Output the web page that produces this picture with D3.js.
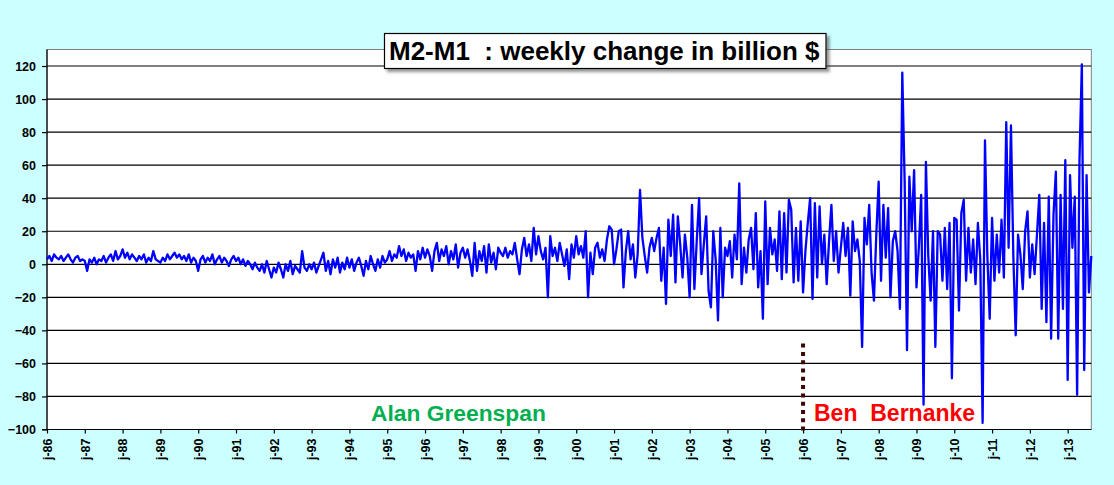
<!DOCTYPE html>
<html><head><meta charset="utf-8">
<script src="https://cdn.jsdelivr.net/npm/d3@7"></script>
<style>html,body{margin:0;padding:0;background:#ccffff;}svg{display:block;}</style>
</head><body>
<svg id="chart" width="1114" height="485"></svg>
<script>
// ---- data ----
const startYear = 1986;
const pointsPerYear = 16;
const values = [
 3,5,2,6,4,3,5,2,4,6,3,1,4,5,2,3,
 2,-4,3,1,4,0,3,2,5,1,4,6,2,8,3,5,
 9,4,7,3,6,4,2,5,3,6,1,4,2,8,3,2,
 1,4,2,6,3,5,7,4,6,3,5,2,6,1,4,2,
 -4,3,5,1,4,2,6,0,3,5,1,4,2,-1,3,5,
 2,4,0,3,-1,2,0,-3,1,-2,-4,0,-5,2,-3,-8,
 -2,-5,1,-3,-8,0,-4,2,-6,-1,-3,-5,8,-2,-4,0,
 -3,1,-5,-1,3,7,-4,2,-6,3,-2,4,-5,1,-3,4,
 -2,3,-4,1,4,-1,-7,2,-3,5,0,-4,3,-2,5,1,
 3,8,2,6,4,11,5,9,2,7,4,6,-4,8,3,10,
 4,9,5,-4,8,13,2,9,5,11,0,8,3,12,-2,7,
 10,4,9,2,-7,13,-4,8,2,11,-5,12,1,7,-3,10,
 7,5,10,4,8,6,13,3,-6,9,16,5,12,2,22,6,
 17,8,3,10,-20,17,5,10,2,13,6,-1,9,-9,12,4,
 17,6,11,4,20,-20,7,-6,10,13,4,9,2,15,23,21,
 0,9,20,21,-14,8,20,3,12,-8,6,45,16,5,-5,10,
 16,8,16,22,-10,10,-24,27,5,30,-11,29,12,-8,18,4,
 -20,36,-15,14,40,-6,12,29,-16,-26,20,3,-34,22,-20,10,
 5,14,-8,18,3,49,-12,10,-5,15,22,-3,31,-14,8,-33,
 38,-12,22,6,15,-4,32,-9,31,-5,39,33,-11,22,-10,26,
 -17,8,25,40,-21,37,-8,35,0,18,-12,14,36,2,20,-5,
 10,25,5,22,-19,26,8,15,2,-50,28,12,36,-5,-22,18,
 50,-10,36,4,34,-20,14,20,8,-27,116,50,-52,53,20,57,
 -14,10,42,-85,62,5,-22,20,-50,20,18,-10,22,-15,25,-69,
 28,27,-28,31,39,-10,22,-5,15,-12,25,3,-96,75,5,-33,
 28,-10,18,-5,27,-8,86,10,84,5,-43,18,6,-15,20,32,
 -8,12,-6,18,42,-27,25,-35,41,-45,30,56,-45,42,-27,63,
 -70,54,10,41,-79,63,121,-64,54,-17,5
];
const xTickYears = [1986,1987,1988,1989,1990,1991,1992,1993,1994,1995,1996,1997,1998,1999,
  2000,2001,2002,2003,2004,2005,2006,2007,2008,2009,2010,2011,2012,2013];
const xTickLabels = ["j-86","j-87","j-88","j-89","j-90","j-91","j-92","j-93","j-94","j-95","j-96","j-97","j-98","j-99",
  "j-00","j-01","j-02","j-03","j-04","j-05","j-06","j-07","j-08","j-09","j-10","j-11","j-12","j-13"];
const yTickValues = [-100,-80,-60,-40,-20,0,20,40,60,80,100,120];
const titleText = "M2-M1\u00a0\u00a0: weekly change in billion $";
const leftLabel = "Alan Greenspan";
const rightLabel = "Ben\u00a0\u00a0Bernanke";
const changeoverYear = 2006.0;

// ---- layout ----
const L = 47, R = 1091.3, T = 49.5, B = 429.5;
const svg = d3.select("#chart");
const x = d3.scaleLinear().domain([startYear, startYear + (values.length - 1) / pointsPerYear]).range([L, R]);
const y = d3.scaleLinear().domain([-100, 130]).range([B, T]);
const FONT = "'Liberation Sans', Arial, Helvetica, sans-serif";

const defs = svg.append("defs");
const f = defs.append("filter").attr("id","sh").attr("x","-5%").attr("y","-20%").attr("width","115%").attr("height","160%");
f.append("feDropShadow").attr("dx",3).attr("dy",3).attr("stdDeviation",1.5).attr("flood-color","#404040").attr("flood-opacity",0.55);

// plot area
svg.append("rect").attr("x",L).attr("y",T).attr("width",R-L).attr("height",B-T)
  .attr("fill","#ffffff").attr("stroke","#808080").attr("stroke-width",1);

// gridlines
svg.append("g").selectAll("line").data(yTickValues.filter(v => v > -100)).join("line")
  .attr("x1",L).attr("x2",R).attr("y1",d=>y(d)).attr("y2",d=>y(d))
  .attr("stroke","#000").attr("stroke-width",1.2);

// y axis
const yAxis = d3.axisLeft(y).tickValues(yTickValues).tickSize(5).tickPadding(6).tickFormat(d3.format("d"));
const gy = svg.append("g").attr("transform",`translate(${L},0)`).call(yAxis);
gy.select(".domain").attr("stroke","#000").attr("stroke-width",1.2).attr("d",`M-5,${y(-100)}H0V${T}`);
gy.selectAll(".tick line").attr("stroke","#000").attr("stroke-width",1.2);
gy.selectAll(".tick text").attr("font-family",FONT).attr("font-weight","bold").attr("font-size","12.5px").attr("fill","#000");

// x axis
const xAxis = d3.axisBottom(x).tickValues(xTickYears).tickSize(4).tickFormat((d,i)=>xTickLabels[i]);
const gx = svg.append("g").attr("transform",`translate(0,${B})`).call(xAxis);
gx.select(".domain").attr("stroke","#000").attr("stroke-width",1.2).attr("d",`M${L},0H${R}`);
gx.selectAll(".tick line").attr("stroke","#000").attr("stroke-width",1.2);
gx.selectAll(".tick text").attr("font-family",FONT).attr("font-weight","bold").attr("font-size","12.5px").attr("fill","#000")
  .attr("text-anchor","end").attr("transform","rotate(-90)").attr("x",-9).attr("y",0).attr("dy","0.35em");

// data line
const line = d3.line().x((d,i)=>x(startYear + i / pointsPerYear)).y(d=>y(d));
svg.append("path").datum(values).attr("d",line).attr("fill","none")
  .attr("stroke","#0000ff").attr("stroke-width",2.3).attr("stroke-linejoin","round");

// changeover dotted line
svg.append("line").attr("x1",x(changeoverYear)).attr("x2",x(changeoverYear))
  .attr("y1",y(-48)).attr("y2",B+2).attr("stroke","#3b0808").attr("stroke-width",4).attr("stroke-dasharray","4,4.3");

// annotations
svg.append("text").attr("x",371).attr("y",421).text(leftLabel)
  .attr("font-family",FONT).attr("font-weight","bold").attr("font-size","22.8px").attr("fill","#00b050");
svg.append("text").attr("x",814).attr("y",421).text(rightLabel)
  .attr("font-family",FONT).attr("font-weight","bold").attr("font-size","23px").attr("fill","#ff0000");

// title box
svg.append("rect").attr("x",384.5).attr("y",33.5).attr("width",441.5).attr("height",35)
  .attr("fill","#fff").attr("stroke","#000").attr("stroke-width",1.2).attr("filter","url(#sh)");
svg.append("text").attr("x",389).attr("y",59.5).text(titleText)
  .attr("font-family",FONT).attr("font-weight","bold").attr("font-size","26px").attr("fill","#000");
</script>
</body></html>
